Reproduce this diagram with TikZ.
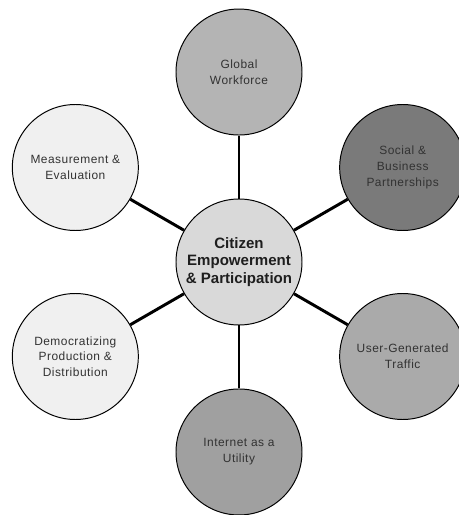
\documentclass[tikz,border=0pt]{standalone}
\usepackage{fontspec}
\setmainfont{Liberation Sans}
\newfontfamily\spacedfont[LetterSpace=4]{Liberation Sans}
\usetikzlibrary{positioning}

\definecolor{hubfill}{RGB}{217,217,217}
\definecolor{palefill}{RGB}{240,240,240}
\definecolor{midfill}{RGB}{180,180,180}
\definecolor{darkfill}{RGB}{122,122,122}
\definecolor{userfill}{RGB}{170,170,170}
\definecolor{netfill}{RGB}{160,160,160}
\definecolor{labeltext}{RGB}{50,50,50}

\tikzset{
	topic/.style={draw, circle, line width=0.7pt, minimum size=3.15cm, inner sep=0pt, align=center,
		text=labeltext, font=\spacedfont\fontsize{8.5}{11.2}\selectfont},
	hub/.style={draw, circle, line width=0.7pt, minimum size=3.15cm, inner sep=0pt, align=center,
		fill=hubfill, text={rgb,255:red,30;green,30;blue,30}, font=\bfseries\fontsize{10.7}{12.7}\selectfont},
	spoke/.style={draw, line width=2.1pt}
}

\begin{document}
\begin{tikzpicture}
	\useasboundingbox (-5.975,6.55) rectangle (5.475,-6.325);

	\node[hub] (hub) at (0,0) {Citizen\\Empowerment\\\& Participation};

	\node[topic, fill=midfill] (global) [above=1.575cm of hub] {Global\\Workforce};
	\node[topic, fill=netfill] (internet) [below=1.575cm of hub] {Internet as a\\Utility};
	\node[topic, fill=darkfill] (social) at (30:4.725) {Social \&\\Business\\Partnerships};
	\node[topic, fill=palefill] (measure) at (150:4.725) {Measurement \&\\Evaluation};
	\node[topic, fill=palefill] (democ) at (210:4.725) {Democratizing\\Production \&\\Distribution};
	\node[topic, fill=userfill] (usergen) at (330:4.725) {User-Generated\\Traffic};

	% spokes from the hub
	\path [spoke] (hub) -- (global);
	\path [spoke] (hub) -- (social);
	\path [spoke] (hub) -- (usergen);
	\path [spoke] (hub) -- (internet);
	\path [spoke] (hub) -- (democ);
	\path [spoke] (hub) -- (measure);
\end{tikzpicture}
\end{document}
